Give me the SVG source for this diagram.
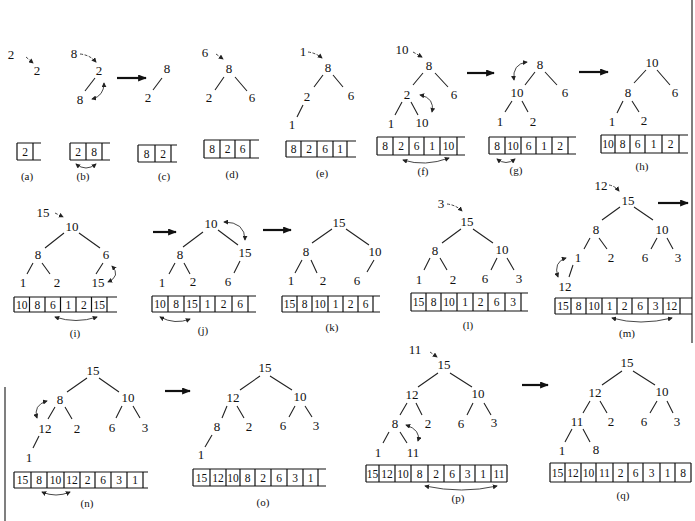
<svg xmlns="http://www.w3.org/2000/svg" width="695" height="521" viewBox="0 0 695 521">
<style>
text{font-family:"Liberation Serif","DejaVu Serif",serif;fill:#111;text-anchor:middle}
.n{font-size:13px}
.a{font-size:11.5px}
.l{font-size:11px}
.e{stroke:#222;stroke-width:1.1;fill:none}
.c{stroke:#111;stroke-width:1.2;fill:none}
.s{stroke:#333;stroke-width:0.9;fill:none;marker-start:url(#h);marker-end:url(#h)}
.i{stroke:#333;stroke-width:0.9;fill:none;stroke-dasharray:3 1.5;marker-end:url(#h)}
.b{stroke:#111;stroke-width:2.2;fill:none;marker-end:url(#bh)}
.edge{stroke:#555;stroke-width:1.5}
</style>
<defs>
<marker id="h" viewBox="0 0 6 6" refX="5" refY="3" markerWidth="5" markerHeight="5" markerUnits="userSpaceOnUse" orient="auto-start-reverse"><path d="M0,0L6,3L0,6z" fill="#222"/></marker>
<marker id="bh" viewBox="0 0 10 8" refX="9" refY="4" markerWidth="9" markerHeight="7" markerUnits="userSpaceOnUse" orient="auto"><path d="M0,0L10,4L0,8z" fill="#111"/></marker>
</defs>
<rect width="695" height="521" fill="#fff"/>
<line class="edge" x1="692" y1="0" x2="692" y2="343"/>
<line class="edge" x1="5" y1="387" x2="5" y2="521"/>

<g id="connectors">
<path class="b" d="M117,78H146"/>
<path class="b" d="M467,73H494"/>
<path class="b" d="M579,72H608"/>
<path class="b" d="M153,232H176"/>
<path class="b" d="M263,230H291"/>
<path class="b" d="M658,203H688"/>
<path class="b" d="M165,391H190"/>
<path class="b" d="M522,385H548"/>
</g>

<g id="panel-a">
<text class="n" x="11" y="59">2</text>
<path class="i" d="M26,57L33,63"/>
<text class="n" x="37" y="75">2</text>
<path class="c" d="M17,143H41M17,160H41M17,143V160M33,143V160"/>
<text class="a" x="25" y="156">2</text>
<text class="l" x="27" y="180">(a)</text>
</g>

<g id="panel-b">
<text class="n" x="74" y="58">8</text>
<path class="i" d="M80,54Q90,55 96,62"/>
<text class="n" x="99" y="75">2</text>
<path class="e" d="M95,78L85,91"/>
<text class="n" x="80" y="104">8</text>
<path class="s" d="M92,99Q104,96 104,83"/>
<path class="c" d="M70,143H110M70,160H110M70,143V160M86,143V160M102,143V160"/>
<text class="a" x="78" y="156">2</text><text class="a" x="94" y="156">8</text>
<path class="s" d="M76,164Q86,172 96,164"/>
<text class="l" x="83" y="180">(b)</text>
</g>

<g id="panel-c">
<text class="n" x="167" y="73">8</text>
<path class="e" d="M162,78L153,90"/>
<text class="n" x="148" y="102">2</text>
<path class="c" d="M138,145H177M138,162H177M138,145V162M155,145V162M171,145V162"/>
<text class="a" x="146.5" y="158">8</text><text class="a" x="163" y="158">2</text>
<text class="l" x="164" y="180">(c)</text>
</g>

<g id="panel-d">
<text class="n" x="205" y="57">6</text>
<path class="i" d="M216,54L223,59"/>
<text class="n" x="229" y="73">8</text>
<path class="e" d="M224,77L215,90M235,77L247,91"/>
<text class="n" x="209" y="102">2</text>
<text class="n" x="252" y="102">6</text>
<path class="c" d="M204,140H259M204,158H259M204,140V158M220,140V158M235,140V158M250,140V158"/>
<text class="a" x="212" y="153">8</text><text class="a" x="227.5" y="153">2</text><text class="a" x="242.5" y="153">6</text>
<text class="l" x="232" y="178">(d)</text>
</g>

<g id="panel-e">
<text class="n" x="303" y="56">1</text>
<path class="i" d="M308,52Q316,53 322,58"/>
<text class="n" x="328" y="72">8</text>
<path class="e" d="M323,75L314,87M333,75L343,87"/>
<text class="n" x="307" y="101">2</text>
<text class="n" x="351" y="100">6</text>
<path class="e" d="M303,105L297,117"/>
<text class="n" x="292" y="129">1</text>
<path class="c" d="M286,141H356M286,157H356M286,141V157M301,141V157M317,141V157M333,141V157M347,141V157"/>
<text class="a" x="293.5" y="153">8</text><text class="a" x="309" y="153">2</text><text class="a" x="325" y="153">6</text><text class="a" x="340" y="153">1</text>
<text class="l" x="322" y="177">(e)</text>
</g>

<g id="panel-f">
<text class="n" x="402" y="54">10</text>
<path class="i" d="M413,52L422,57"/>
<text class="n" x="429" y="70">8</text>
<path class="e" d="M423,73L413,85M435,73L448,87"/>
<text class="n" x="407" y="99">2</text>
<text class="n" x="454" y="99">6</text>
<path class="e" d="M402,102L395,115M411,102L418,115"/>
<text class="n" x="391" y="128">1</text>
<text class="n" x="422" y="127">10</text>
<path class="s" d="M420,95Q435,98 432,112"/>
<path class="c" d="M377,137H465M377,155H465M377,137V155M393,137V155M409,137V155M424,137V155M440,137V155M457,137V155"/>
<text class="a" x="385" y="150">8</text><text class="a" x="401" y="150">2</text><text class="a" x="416.5" y="150">6</text><text class="a" x="432" y="150">1</text><text class="a" x="448.5" y="150">10</text>
<path class="s" d="M403,160Q425,167 449,158"/>
<text class="l" x="423" y="175">(f)</text>
</g>

<g id="panel-g">
<text class="n" x="540" y="69">8</text>
<path class="e" d="M535,72L525,85M545,72L557,85"/>
<text class="n" x="517" y="97">10</text>
<text class="n" x="565" y="97">6</text>
<path class="s" d="M527,62Q512,64 514,80"/>
<path class="e" d="M512,101L505,112M522,101L528,112"/>
<text class="n" x="500" y="126">1</text>
<text class="n" x="533" y="126">2</text>
<path class="c" d="M489,137H576M489,154H576M489,137V154M505,137V154M521,137V154M536,137V154M552,137V154M568,137V154"/>
<text class="a" x="497" y="149.5">8</text><text class="a" x="513" y="149.5">10</text><text class="a" x="528.5" y="149.5">6</text><text class="a" x="544" y="149.5">1</text><text class="a" x="560" y="149.5">2</text>
<path class="s" d="M497,159Q506,166 515,159"/>
<text class="l" x="516" y="174">(g)</text>
</g>

<g id="panel-h">
<text class="n" x="652" y="67">10</text>
<path class="e" d="M646,70L634,83M657,70L670,85"/>
<text class="n" x="628" y="97">8</text>
<text class="n" x="675" y="97">6</text>
<path class="e" d="M623,101L617,113M632,101L639,112"/>
<text class="n" x="612" y="126">1</text>
<text class="n" x="644" y="125">2</text>
<path class="c" d="M601,135H688M601,153H688M601,135V153M615,135V153M630,135V153M645,135V153M662,135V153M679,135V153"/>
<text class="a" x="608" y="148">10</text><text class="a" x="622.5" y="148">8</text><text class="a" x="637.5" y="148">6</text><text class="a" x="653.5" y="148">1</text><text class="a" x="670.5" y="148">2</text>
<text class="l" x="642" y="170">(h)</text>
</g>

<g id="panel-i">
<text class="n" x="43" y="217">15</text>
<path class="i" d="M55,213L63,217"/>
<text class="n" x="72" y="231">10</text>
<path class="e" d="M64,233L45,248M79,233L100,248"/>
<text class="n" x="38" y="259">8</text>
<text class="n" x="106" y="259">6</text>
<path class="e" d="M33,263L27,274M42,263L50,274M103,263L96,274"/>
<text class="n" x="23" y="287">1</text>
<text class="n" x="57" y="287">2</text>
<text class="n" x="98" y="287">15</text>
<path class="s" d="M112,266Q121,276 108,282"/>
<path class="c" d="M14,297H117M14,312H117M14,297V312M29.5,297V312M45,297V312M60.5,297V312M76,297V312M91.5,297V312M107,297V312"/>
<text class="a" x="21.75" y="308.5">10</text><text class="a" x="37.25" y="308.5">8</text><text class="a" x="52.75" y="308.5">6</text><text class="a" x="68.25" y="308.5">1</text><text class="a" x="83.75" y="308.5">2</text><text class="a" x="99.25" y="308.5">15</text>
<path class="s" d="M55,317Q76,324 97,317"/>
<text class="l" x="75" y="337">(i)</text>
</g>

<g id="panel-j">
<text class="n" x="211" y="228">10</text>
<path class="e" d="M203,232L183,247M218,230L238,245"/>
<text class="n" x="180" y="259">8</text>
<text class="n" x="245" y="257">15</text>
<path class="s" d="M224,222Q245,222 245,240"/>
<path class="e" d="M175,263L169,274M184,263L190,274M240,261L234,273"/>
<text class="n" x="162" y="287">1</text>
<text class="n" x="193" y="286">2</text>
<text class="n" x="228" y="286">6</text>
<path class="c" d="M152,296H256M152,312H256M152,296V312M168,296V312M184,296V312M200,296V312M215,296V312M232,296V312M248,296V312"/>
<text class="a" x="160" y="308">10</text><text class="a" x="176" y="308">8</text><text class="a" x="192" y="308">15</text><text class="a" x="207.5" y="308">1</text><text class="a" x="223.5" y="308">2</text><text class="a" x="240" y="308">6</text>
<path class="s" d="M160,317Q175,325 190,319"/>
<text class="l" x="203" y="334">(j)</text>
</g>

<g id="panel-k">
<text class="n" x="339" y="227">15</text>
<path class="e" d="M332,229L312,243M346,229L369,245"/>
<text class="n" x="306" y="256">8</text>
<text class="n" x="375" y="256">10</text>
<path class="e" d="M302,260L295,273M311,260L317,273M374,260L367,272"/>
<text class="n" x="291" y="285">1</text>
<text class="n" x="323" y="285">2</text>
<text class="n" x="357" y="285">6</text>
<path class="c" d="M282,296H380M282,312H380M282,296V312M297,296V312M312,296V312M328,296V312M343,296V312M358,296V312M373,296V312"/>
<text class="a" x="289.5" y="308">15</text><text class="a" x="304.5" y="308">8</text><text class="a" x="320" y="308">10</text><text class="a" x="335.5" y="308">1</text><text class="a" x="350.5" y="308">2</text><text class="a" x="365.5" y="308">6</text>
<text class="l" x="332" y="331">(k)</text>
</g>

<g id="panel-l">
<text class="n" x="441" y="208">3</text>
<path class="i" d="M447,204Q456,205 462,211"/>
<text class="n" x="467" y="226">15</text>
<path class="e" d="M461,229L442,243M473,229L493,243"/>
<text class="n" x="435" y="255">8</text>
<text class="n" x="502" y="254">10</text>
<path class="e" d="M430,258L424,270M440,258L447,270M497,258L491,270M507,258L514,270"/>
<text class="n" x="419" y="284">1</text>
<text class="n" x="453" y="284">2</text>
<text class="n" x="485" y="283">6</text>
<text class="n" x="519" y="283">3</text>
<path class="c" d="M411,293H528M411,311H528M411,293V311M426,293V311M441,293V311M457,293V311M473,293V311M488,293V311M505,293V311M521,293V311"/>
<text class="a" x="418.5" y="306">15</text><text class="a" x="433.5" y="306">8</text><text class="a" x="449" y="306">10</text><text class="a" x="465" y="306">1</text><text class="a" x="480.5" y="306">2</text><text class="a" x="496.5" y="306">6</text><text class="a" x="513" y="306">3</text>
<text class="l" x="468" y="329">(l)</text>
</g>

<g id="panel-m">
<text class="n" x="601" y="190">12</text>
<path class="i" d="M609,185Q615,186 619,191"/>
<text class="n" x="628" y="205">15</text>
<path class="e" d="M620,207L602,220M634,207L653,220"/>
<text class="n" x="596" y="234">8</text>
<text class="n" x="662" y="234">10</text>
<path class="e" d="M590,238L584,249M599,238L607,249M657,238L651,249M667,238L673,249"/>
<text class="n" x="578" y="262">1</text>
<text class="n" x="611" y="262">2</text>
<text class="n" x="645" y="262">6</text>
<text class="n" x="678" y="262">3</text>
<path class="e" d="M573,265L569,277"/>
<text class="n" x="565" y="291">12</text>
<path class="s" d="M566,258Q553,262 558,277"/>
<path class="c" d="M555,298H692M555,314H692M555,298V314M571,298V314M586,298V314M602,298V314M617,298V314M632,298V314M648,298V314M663,298V314M680,298V314"/>
<text class="a" x="563" y="310">15</text><text class="a" x="578.5" y="310">8</text><text class="a" x="594" y="310">10</text><text class="a" x="609.5" y="310">1</text><text class="a" x="624.5" y="310">2</text><text class="a" x="640" y="310">6</text><text class="a" x="655.5" y="310">3</text><text class="a" x="671.5" y="310">12</text>
<path class="s" d="M612,318Q640,326 672,318"/>
<text class="l" x="627" y="337">(m)</text>
</g>

<g id="panel-n">
<text class="n" x="93" y="375">15</text>
<path class="e" d="M87,378L67,392M99,378L119,392"/>
<text class="n" x="60" y="404">8</text>
<text class="n" x="128" y="402">10</text>
<path class="e" d="M55,407L48,419M65,407L72,419M122,406L116,418M133,406L140,418"/>
<text class="n" x="45" y="433">12</text>
<text class="n" x="77" y="433">2</text>
<text class="n" x="112" y="432">6</text>
<text class="n" x="145" y="432">3</text>
<path class="s" d="M47,401Q33,405 37,418"/>
<path class="e" d="M39,436L33,448"/>
<text class="n" x="29" y="462">1</text>
<path class="c" d="M14,472H148M14,488H148M14,472V488M31,472V488M47,472V488M64,472V488M80,472V488M95,472V488M111,472V488M127,472V488M143,472V488"/>
<text class="a" x="22.5" y="484">15</text><text class="a" x="39" y="484">8</text><text class="a" x="55.5" y="484">10</text><text class="a" x="72" y="484">12</text><text class="a" x="87.5" y="484">2</text><text class="a" x="103" y="484">6</text><text class="a" x="119" y="484">3</text><text class="a" x="135" y="484">1</text>
<path class="s" d="M42,492Q56,498 70,492"/>
<text class="l" x="87" y="507">(n)</text>
</g>

<g id="panel-o">
<text class="n" x="265" y="372">15</text>
<path class="e" d="M260,376L240,390M270,376L292,390"/>
<text class="n" x="233" y="402">12</text>
<text class="n" x="300" y="401">10</text>
<path class="e" d="M227,406L222,418M237,406L244,418M295,406L289,417M305,406L312,417"/>
<text class="n" x="217" y="431">8</text>
<text class="n" x="249" y="431">2</text>
<text class="n" x="283" y="430">6</text>
<text class="n" x="316" y="430">3</text>
<path class="e" d="M212,435L205,447"/>
<text class="n" x="201" y="459">1</text>
<path class="c" d="M193,469H326M193,486H326M193,469V486M210,469V486M226,469V486M240,469V486M255,469V486M271,469V486M287,469V486M303,469V486M318,469V486"/>
<text class="a" x="201.5" y="481.5">15</text><text class="a" x="218" y="481.5">12</text><text class="a" x="233" y="481.5">10</text><text class="a" x="247.5" y="481.5">8</text><text class="a" x="263" y="481.5">2</text><text class="a" x="279" y="481.5">6</text><text class="a" x="295" y="481.5">3</text><text class="a" x="310.5" y="481.5">1</text>
<text class="l" x="263" y="506">(o)</text>
</g>

<g id="panel-p">
<text class="n" x="415" y="354">11</text>
<path class="i" d="M430,352L437,357"/>
<text class="n" x="444" y="369">15</text>
<path class="e" d="M438,373L418,387M450,373L472,387"/>
<text class="n" x="412" y="399">12</text>
<text class="n" x="478" y="398">10</text>
<path class="e" d="M407,403L400,415M416,403L422,415M473,403L467,415M484,403L491,415"/>
<text class="n" x="395" y="428">8</text>
<text class="n" x="428" y="428">2</text>
<text class="n" x="461" y="428">6</text>
<text class="n" x="494" y="427">3</text>
<path class="s" d="M406,425Q421,430 418,441"/>
<path class="e" d="M389,432L383,443M400,432L407,443"/>
<text class="n" x="378" y="457">1</text>
<text class="n" x="413" y="457">11</text>
<path class="c" d="M366,465H507M366,482H507M366,465V482M379,465V482M395,465V482M411,465V482M428,465V482M444,465V482M460,465V482M475,465V482M491,465V482M507,465V482"/>
<text class="a" x="372.5" y="477.5">15</text><text class="a" x="387" y="477.5">12</text><text class="a" x="403" y="477.5">10</text><text class="a" x="419.5" y="477.5">8</text><text class="a" x="436" y="477.5">2</text><text class="a" x="452" y="477.5">6</text><text class="a" x="467.5" y="477.5">3</text><text class="a" x="483" y="477.5">1</text><text class="a" x="499" y="477.5">11</text>
<path class="s" d="M425,486Q462,494 497,486"/>
<text class="l" x="458" y="502">(p)</text>
</g>

<g id="panel-q">
<text class="n" x="627" y="367">15</text>
<path class="e" d="M622,371L602,385M633,371L655,385"/>
<text class="n" x="595" y="397">12</text>
<text class="n" x="662" y="396">10</text>
<path class="e" d="M590,401L583,413M600,401L607,413M657,401L650,413M667,401L673,413"/>
<text class="n" x="577" y="426">11</text>
<text class="n" x="611" y="426">2</text>
<text class="n" x="644" y="426">6</text>
<text class="n" x="677" y="426">3</text>
<path class="e" d="M572,429L565,442M583,429L590,442"/>
<text class="n" x="562" y="455">1</text>
<text class="n" x="596" y="454">8</text>
<path class="c" d="M550,463H691M550,482H691M550,463V482M565,463V482M581,463V482M596,463V482M613,463V482M628,463V482M643,463V482M660,463V482M675,463V482M691,463V482"/>
<text class="a" x="557.5" y="476.5">15</text><text class="a" x="573" y="476.5">12</text><text class="a" x="588.5" y="476.5">10</text><text class="a" x="604.5" y="476.5">11</text><text class="a" x="620.5" y="476.5">2</text><text class="a" x="635.5" y="476.5">6</text><text class="a" x="651.5" y="476.5">3</text><text class="a" x="667.5" y="476.5">1</text><text class="a" x="683" y="476.5">8</text>
<text class="l" x="623" y="499">(q)</text>
</g>
</svg>
